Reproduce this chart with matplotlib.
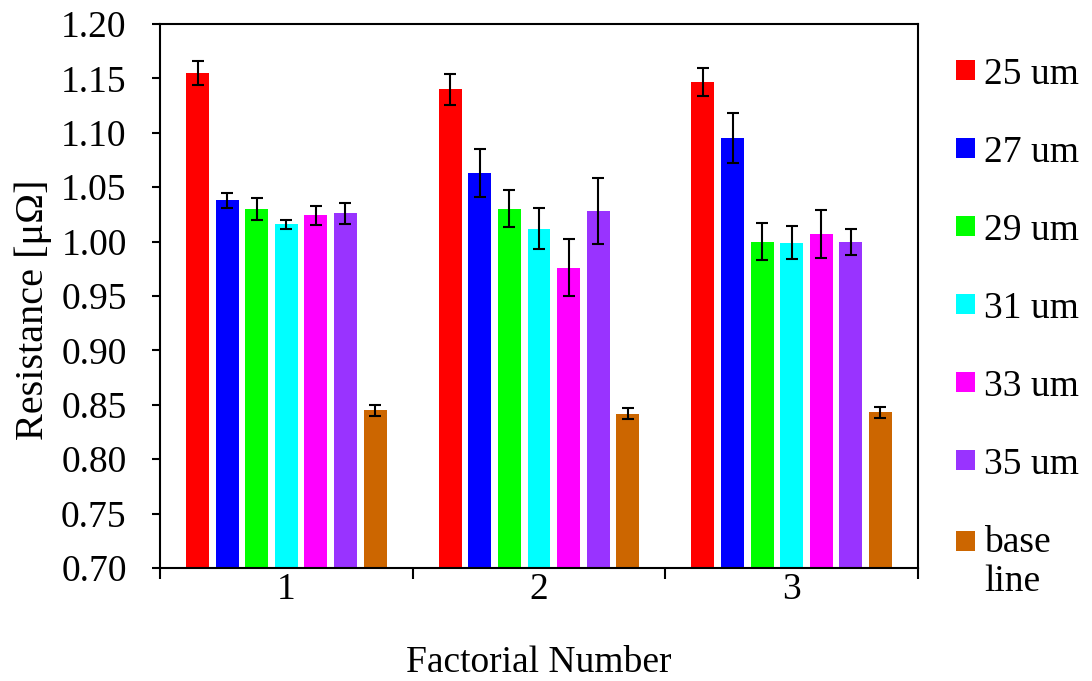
import matplotlib
matplotlib.use("Agg")
import matplotlib.pyplot as plt
import numpy as np
from matplotlib.ticker import FixedLocator, FormatStrFormatter
from matplotlib.legend_handler import HandlerPatch

plt.rcParams['font.family'] = ['Liberation Serif', 'DejaVu Serif']

groups = ['1', '2', '3']
series = ['25 um', '27 um', '29 um', '31 um', '33 um', '35 um', 'base\nline']
colors = ['#FF0000', '#0000FF', '#00FF00', '#00FFFF', '#FF00FF', '#9933FF', '#CC6600']

values = [
    [1.155, 1.140, 1.147],   # 25 um
    [1.038, 1.063, 1.095],   # 27 um
    [1.030, 1.030, 1.000],   # 29 um
    [1.016, 1.012, 0.999],   # 31 um
    [1.024, 0.976, 1.007],   # 33 um
    [1.026, 1.028, 1.000],   # 35 um
    [0.845, 0.842, 0.843],   # base line
]
errors = [
    [0.011, 0.0145, 0.013],
    [0.007, 0.022, 0.023],
    [0.010, 0.017, 0.017],
    [0.004, 0.019, 0.015],
    [0.009, 0.026, 0.022],
    [0.0095, 0.030, 0.012],
    [0.005, 0.005, 0.005],
]

FS = 27


class ShiftedHandler(HandlerPatch):
    def __init__(self, dy=0.0, **kw):
        super().__init__(**kw)
        self.dy = dy

    def create_artists(self, legend, orig_handle, xdescent, ydescent,
                       width, height, fontsize, trans):
        return super().create_artists(legend, orig_handle, xdescent,
                                      ydescent - self.dy, width, height,
                                      fontsize, trans)


fig = plt.figure(figsize=(10.92, 6.81), dpi=100)
ax = fig.add_axes([160/1092, 1-568/681, (918-160)/1092, (568-24)/681])

x = np.arange(len(groups))
pitch = 0.117
width = 0.091
n = len(series)
bars = []
for i in range(n):
    pos = x + (i - (n-1)/2) * pitch
    b = ax.bar(pos, values[i], width, color=colors[i], label=series[i], zorder=2)
    bars.append(b)
    ax.errorbar(pos, values[i], yerr=errors[i], fmt='none', ecolor='black',
                elinewidth=1.5, capsize=4.5, capthick=1.5, zorder=3)

ax.set_xlim(-0.5, len(groups)-0.5)
ax.set_ylim(0.70, 1.20)
ax.set_yticks(np.arange(0.70, 1.2001, 0.05))
ax.yaxis.set_major_formatter(FormatStrFormatter('%.2f'))
ax.set_xticks(x)
ax.set_xticklabels(groups)
ax.xaxis.set_minor_locator(FixedLocator(np.arange(-0.5, len(groups), 1.0)))
ax.tick_params(axis='x', which='major', length=0, pad=3, labelsize=FS)
ax.tick_params(axis='x', which='minor', length=8, width=1.5, direction='out')
ax.tick_params(axis='y', which='major', length=6, width=1.5, direction='out',
               labelsize=FS, pad=18)
for s in ax.spines.values():
    s.set_linewidth(1.5)

ax.set_ylabel('Resistance [μΩ]', fontsize=29)
ax.yaxis.set_label_coords(-0.142, 0.474)
ax.set_xlabel('Factorial Number', fontsize=FS, labelpad=28)

handler_map = {bars[-1].patches[0]: ShiftedHandler(dy=15)}
leg = fig.legend([b.patches[0] for b in bars], series,
                 loc='upper left', bbox_to_anchor=(956/1092, 1-57/681),
                 frameon=False, fontsize=FS, handlelength=0.51,
                 handleheight=0.46, handletextpad=0.25, labelspacing=1.16,
                 borderpad=0, borderaxespad=0, handler_map=handler_map)
leg.get_texts()[-1].set_linespacing(1.17)

fig.savefig('out.png', dpi=100)
